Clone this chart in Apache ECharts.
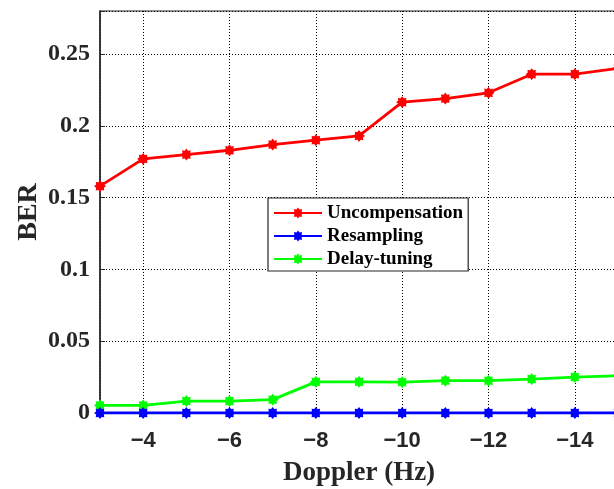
<!DOCTYPE html>
<html>
<head>
<meta charset="utf-8">
<script src="https://cdn.jsdelivr.net/npm/echarts@6/dist/echarts.min.js"></script>
<style>html,body{margin:0;padding:0;background:#fff}#c{width:614px;height:489px}</style>
</head>
<body>
<div id="c"></div>
<script>
const doppler = [-3, -4, -5, -6, -7, -8, -9, -10, -11, -12, -13, -14, -15];
const uncompensation = [0.158, 0.177, 0.180, 0.183, 0.187, 0.190, 0.193, 0.2165, 0.219, 0.223, 0.236, 0.236, 0.240];
const resampling = [0, 0, 0, 0, 0, 0, 0, 0, 0, 0, 0, 0, 0];
const delayTuning = [0.0053, 0.0053, 0.0083, 0.0083, 0.0093, 0.0217, 0.0217, 0.0215, 0.0225, 0.0225, 0.0236, 0.025, 0.026];
const yTickLabels = {0: '0', 0.05: '0.05', 0.1: '0.1', 0.15: '0.15', 0.2: '0.2', 0.25: '0.25'};

function starPath(n, ro, ri) {
  let d = '';
  for (let i = 0; i < 2 * n; i++) {
    const r = i % 2 === 0 ? ro : ri;
    const a = Math.PI * i / n - Math.PI / 2;
    d += (i === 0 ? 'M' : 'L') + (r * Math.cos(a)).toFixed(3) + ' ' + (r * Math.sin(a)).toFixed(3) + ' ';
  }
  return 'path://' + d + 'Z';
}
const marker = starPath(8, 10, 7);

function pairs(vals) { return doppler.map((x, i) => [x, vals[i]]); }

const textColor = '#262626';
const chart = echarts.init(document.getElementById('c'));
function mk(name, color, vals, z) {
  return {
    name, type: 'line', data: pairs(vals), z,
    symbol: marker, symbolSize: 12,
    lineStyle: {color, width: 2.8},
    itemStyle: {color},
    animation: false
  };
}
chart.setOption({
  animation: false,
  grid: {left: 100, top: 11, width: 518, height: 402, show: true, borderColor: textColor, borderWidth: 1.2, containLabel: false, outerBoundsMode: 'none'},
  xAxis: {
    type: 'value', min: -15, max: -3, inverse: true, splitNumber: 6,
    name: 'Doppler (Hz)', nameLocation: 'middle', nameGap: 47, nameMoveOverlap: false,
    nameTextStyle: {fontFamily: 'Liberation Serif', fontWeight: 'bold', fontSize: 27, color: textColor},
    axisLine: {show: true, onZero: false, lineStyle: {color: textColor, width: 1.5}},
    axisTick: {show: true, inside: true, length: 5, lineStyle: {color: textColor}},
    axisLabel: {
      margin: 17, color: textColor, fontFamily: 'Liberation Sans', fontWeight: 'bold', fontSize: 22,
      formatter: v => (v % 2 === 0 ? '\u2212' + Math.abs(v) : '')
    },
    splitLine: {show: true, lineStyle: {color: '#000', type: [1, 2], width: 1}}
  },
  yAxis: {
    type: 'value', min: 0, max: 0.28, interval: 0.05,
    name: 'BER', nameLocation: 'middle', nameGap: 57, nameMoveOverlap: false,
    nameTextStyle: {fontFamily: 'Liberation Serif', fontWeight: 'bold', fontSize: 28, color: textColor},
    axisLine: {show: true, lineStyle: {color: textColor, width: 1.5}},
    axisTick: {show: true, inside: true, length: 5, lineStyle: {color: textColor}},
    axisLabel: {
      margin: 10, color: textColor, fontFamily: 'Liberation Serif', fontWeight: 'bold', fontSize: 24,
      formatter: v => { const k = Math.round(v * 100) / 100; return yTickLabels[k] !== undefined && Math.abs(v - k) < 1e-9 ? yTickLabels[k] : ''; }
    },
    splitLine: {show: true, lineStyle: {color: '#000', type: [1, 2], width: 1}}
  },
  legend: {
    orient: 'vertical', left: 268, top: 198,
    backgroundColor: '#fff', borderColor: textColor, borderWidth: 1.2,
    padding: [5, 5, 2, 5], itemGap: 3, itemWidth: 48, itemHeight: 14,
    textStyle: {fontFamily: 'Liberation Serif', fontWeight: 'bold', fontSize: 19, color: '#000', lineHeight: 20},
    data: ['Uncompensation', 'Resampling', 'Delay-tuning']
  },
  series: [
    mk('Uncompensation', '#ff0000', uncompensation, 3),
    mk('Delay-tuning', '#00ff00', delayTuning, 3),
    mk('Resampling', '#0000ff', resampling, 4)
  ]
});
</script>
</body>
</html>
